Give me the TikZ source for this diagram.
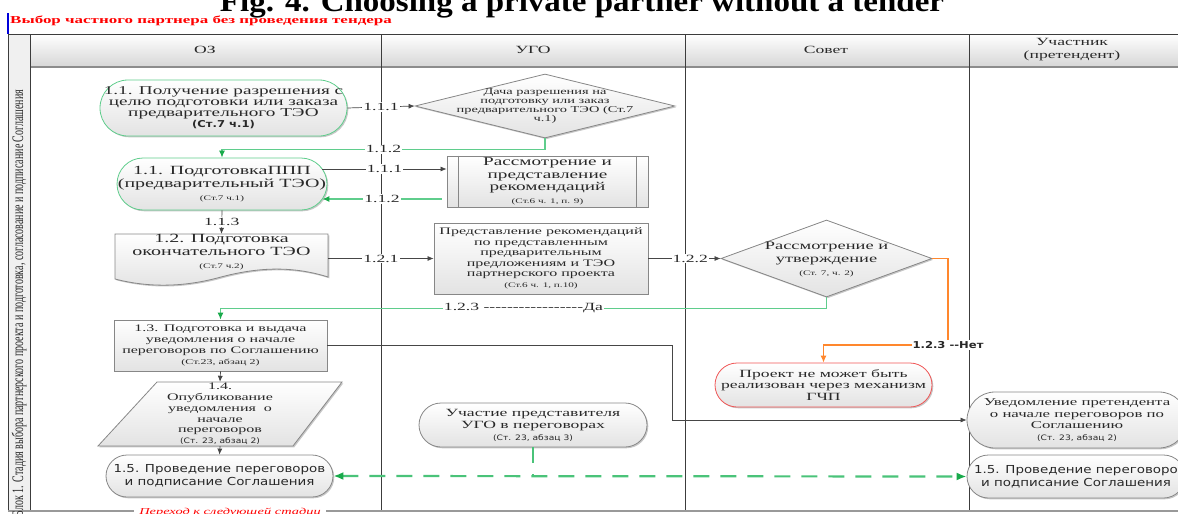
\documentclass[tikz,border=0pt]{standalone}
\usepackage{fontspec}
\setmainfont[FakeStretch=1.6]{Liberation Serif}
\newfontfamily\sansw[FakeStretch=1.22]{DejaVu Sans}
\newfontfamily\vertf[FakeStretch=0.625]{Liberation Serif}
\newfontfamily\titf[FakeStretch=1.1]{Liberation Serif}
\usetikzlibrary{shapes.misc,shapes.geometric,arrows.meta,calc,shadows}
\newcommand\fs[2]{\fontsize{#1}{#2}\selectfont}
\newcommand\hyp{\mbox{-}}
\definecolor{lanegray}{RGB}{60,60,60}
\definecolor{boxgray}{RGB}{135,135,135}
\definecolor{gline}{RGB}{95,205,140}
\definecolor{garrow}{RGB}{25,170,75}
\definecolor{oline}{RGB}{255,135,45}
\definecolor{rline}{RGB}{240,85,85}
\definecolor{arrgray}{RGB}{70,70,70}
\definecolor{txt}{RGB}{40,40,40}
\tikzset{
  shp/.style={draw=boxgray, line width=0.8pt, top color=white, bottom color=black!11,
    drop shadow={shadow xshift=1.3pt, shadow yshift=-1.3pt, opacity=0.22, fill=black}},
  box/.style={shp, align=center, inner sep=0pt, text=txt},
  stadium/.style={box, rounded corners=#1},
  gbord/.style={draw=gline},
  txtnode/.style={align=center, inner sep=0pt, text=txt},
  lane/.style={draw=lanegray, line width=0.8pt},
  conn/.style={draw=arrgray, line width=0.7pt, -{Latex[length=6pt,width=5pt]}},
  gconn/.style={draw=gline, line width=1.1pt, -{Latex[length=7pt,width=6pt,color=garrow]}},
  gplain/.style={draw=gline!70!garrow, line width=2.2pt, dash pattern=on 16pt off 11pt},
  gdash/.style={gplain, {Latex[length=10pt,width=8pt,color=garrow]}-{Latex[length=10pt,width=8pt,color=garrow]}},
  oconn/.style={draw=oline, line width=1.1pt, -{Latex[length=7pt,width=6pt]}},
  lab/.style={fill=white, inner sep=1pt, text=txt, font=\fs{11}{11}},
}
\begin{document}
\begin{tikzpicture}[x=1pt,y=-1pt]
\useasboundingbox (0,0) rectangle (1178,514);
% title
\node[font=\titf\bfseries\fs{30}{30}, anchor=base, inner sep=0pt] (title) at (582,11) {Fig. 4. Choosing a private partner without a tender};
\draw[blue!85!black, line width=1.2pt] (8,13) -- (8,34);
\node[anchor=west, text=red, font=\bfseries\fs{10.6}{12}, inner sep=0pt] (rtitle) at (10,21) {Выбор частного партнера без проведения тендера};
% lanes
\path[fill=black!6] (8,34) rectangle (30,511);
\path[top color=white, bottom color=black!16] (30,34) rectangle (1178,67);
\draw[lane] (8,34) -- (1178,34);
\draw[draw=black!45, line width=1.4pt] (30,67) -- (1178,67);
\draw[lane] (8,34) -- (8,511);
\draw[lane] (30,34) -- (30,511);
\draw[lane] (381,34) -- (381,511);
\draw[lane] (685,34) -- (685,511);
\draw[lane] (969,34) -- (969,511);
\draw[draw=black!40, line width=2pt] (8,511) -- (1178,511);
\node[txtnode, font=\fs{11}{12}] (h1) at (205,50) {ОЗ};
\node[txtnode, font=\fs{11}{12}] (h2) at (533,50) {УГО};
\node[txtnode, font=\fs{11}{12}] (h3) at (826,50) {Совет};
\node[txtnode, font=\fs{11}{13}] (h4) at (1072,50) {Участник\\(претендент)};
\node[rotate=90, text=txt, inner sep=0pt, font=\vertf\fs{16}{16}] (vt) at (19,303) {Блок 1. Стадия выбора партнерского проекта и подготовка, согласование и подписание Соглашения};
\node[fill=white, text=red, font=\itshape\fs{9}{9}, inner xsep=5pt, inner ysep=2pt] (next) at (230,512) {Переход к следующей стадии};
% shapes drawn directly
\path[shp] (115,234) -- (328,234) -- (328,277) .. controls (290,265) and (255,268) .. (221,277) .. controls (185,287) and (150,288) .. (115,279) -- cycle;
\path[shp] (157,382) -- (342,382) -- (293,446) -- (98,446) -- cycle;
% nodes
\node[stadium=28pt, gbord, minimum width=247pt, minimum height=56pt, font=\fs{12}{11}] (n11) at (223.5,108) {1.1. Получение разрешения с\\целю подготовки или заказа\\предварительного ТЭО\\{\sansw\bfseries\fs{9.5}{12}(Ст.7 ч.1)}};
\node[stadium=26pt, gbord, minimum width=210pt, minimum height=52pt, font=\fs{12.5}{13}] (n12pp) at (222,184) {1.1. ПодготовкаППП\\(предварительный ТЭО)\\{\fs{7}{12}(Ст.7 ч.1)}};
\node[txtnode, minimum width=213pt, minimum height=49pt] (n12) at (221.5,258.5) {};
\node[txtnode, font=\fs{12.5}{13}] (n12t) at (221.5,252) {1.2. Подготовка\\окончательного ТЭО\\{\fs{7}{12}(Ст.7 ч.2)}};
\node[box, minimum width=213pt, minimum height=51pt, font=\fs{10}{11}] (n13) at (220.5,345.5) {1.3. Подготовка и выдача\\уведомления о начале\\переговоров по Соглашению\\{\fs{7.5}{12}(Ст.23, абзац 2)}};
\node[txtnode, minimum width=150pt, minimum height=64pt, font=\fs{10}{10.8}] (n14) at (220,414) {1.4.\\Опубликование\\уведомления~~о\\начале\\переговоров\\{\sansw\fs{7.5}{9}(Ст. 23, абзац 2)}};
\node[stadium=21pt, minimum width=227pt, minimum height=42pt, font=\sansw\fs{11}{13}] (n15) at (219.5,476) {1.5. Проведение переговоров\\и подписание Соглашения};
\node[box, diamond, minimum width=260pt, minimum height=64pt] (d1) at (545,106) {};
\node[txtnode, font=\fs{9}{9.2}] (d1t) at (545,106) {Дача разрешения на\\подготовку или заказ\\предварительного ТЭО (Ст.7\\ч.1)};
\node[box, minimum width=201pt, minimum height=51pt, font=\fs{12}{12.5}] (r1) at (547.5,181.5) {Рассмотрение и\\представление\\рекомендаций\\{\fs{7}{12}(Ст.6 ч. 1, п. 9)}};
\draw[boxgray, line width=0.8pt] ([xshift=12pt]r1.north west) -- ([xshift=12pt]r1.south west);
\draw[boxgray, line width=0.8pt] ([xshift=-12pt]r1.north east) -- ([xshift=-12pt]r1.south east);
\node[box, minimum width=214pt, minimum height=71pt, font=\fs{10}{10.5}] (r2) at (541,258.5) {Представление рекомендаций\\по представленным\\предварительным\\предложениям и ТЭО\\партнерского проекта\\{\fs{7}{12}(Ст.6 ч. 1, п.10)}};
\node[stadium=22pt, minimum width=228pt, minimum height=44pt, font=\fs{11}{12}] (u1) at (533,425) {Участие представителя\\УГО в переговорах\\{\sansw\fs{7.5}{14}(Ст. 23, абзац 3)}};
\node[box, diamond, minimum width=211pt, minimum height=77pt] (d2) at (826.5,258.5) {};
\node[txtnode, font=\fs{11.5}{13}] (d2t) at (826.5,259) {Рассмотрение и\\утверждение\\{\fs{7}{10}(Ст. 7, ч. 2)}};
\node[stadium=22pt, draw=rline, minimum width=217pt, minimum height=44pt, font=\fs{11}{11.5}] (red) at (823.5,385) {Проект не может быть\\реализован через механизм\\ГЧП};
\node[stadium=28pt, minimum width=220pt, minimum height=56pt, font=\fs{10.5}{11.5}] (uv) at (1077,420) {Уведомление претендента\\о начале переговоров по\\Соглашению\\{\sansw\fs{7.5}{13}(Ст. 23, абзац 2)}};
\node[stadium=21.5pt, minimum width=218pt, minimum height=43pt, font=\sansw\fs{11}{13}] (p15) at (1076,476.5) {1.5. Проведение переговоро\\и подписание Соглашения};
% connectors
\draw[conn] (n11.east) -- node[lab]{1.1.1} (d1.west);
\draw[gconn] (d1.south) -- ++(0,11) -| node[lab,pos=0.25]{1.1.2} (n12pp.north);
\coordinate (s1) at ($(n12pp.east)+(-5,-15)$);
\draw[conn] (s1) -- node[lab]{1.1.1} (s1 -| r1.west);
\coordinate (s2) at ($(r1.west)+(-5,17.5)$);
\draw[gconn] (s2) -- node[lab]{1.1.2} ($(s2 -| n12pp.east)+(-5,0)$);
\draw[conn] (n12pp.south) -- node[lab]{1.1.3} (n12.north);
\draw[conn] (n12.east) -- node[lab]{1.2.1} (r2.west);
\draw[conn] (r2.east) -- node[lab,pos=0.58]{1.2.2} (d2.west);
\draw[gconn] (d2.south) -- ++(0,11) -| node[lab,pos=0.25]{1.2.3 \hyp\hyp\hyp\hyp\hyp\hyp\hyp\hyp\hyp\hyp\hyp\hyp\hyp\hyp\hyp\hyp\hyp Да} (n13.north);
\coordinate (nc) at (948,345);
\draw[oconn] (d2.east) -| (nc) -| (red.north);
\node[lab, font=\sansw\bfseries\fs{9.5}{10}] (nl) at (nc) {1.2.3 \hyp\hyp Нет};
\coordinate (c13) at (672,420);
\draw[conn] (n13.east) -| (c13) -- (uv.west);
\draw[conn] (n13.south) -- (n14.north);
\draw[conn] (n14.south) -- (n15.north);
\draw[gdash] (n15.east) -- (p15.west);
\draw[gplain] (u1.south) -- (u1.south |- n15.east);
\end{tikzpicture}
\end{document}
